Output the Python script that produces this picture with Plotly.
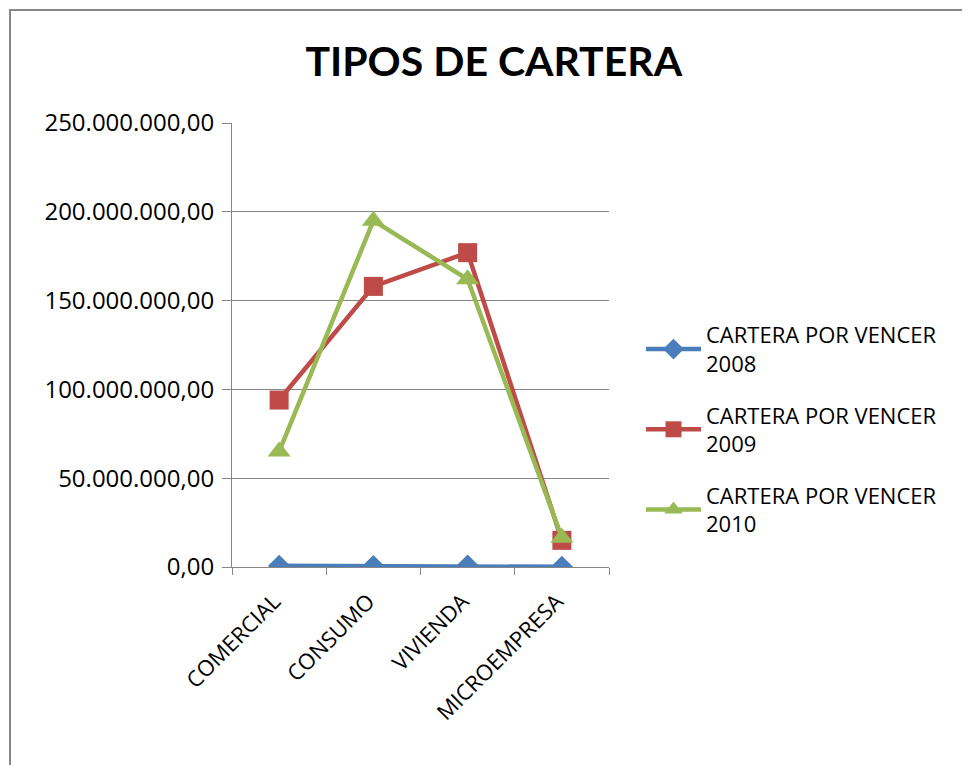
import plotly.graph_objects as go

categories = ["COMERCIAL", "CONSUMO", "VIVIENDA", "MICROEMPRESA"]
serie_2008 = [700000, 600000, 800000, 100000]
serie_2009 = [94000000, 158000000, 177000000, 15000000]
serie_2010 = [65000000, 195000000, 162000000, 16500000]
series_names = ["CARTERA POR VENCER<br>2008", "CARTERA POR VENCER<br>2009", "CARTERA POR VENCER<br>2010"]
y_ticks = [0, 50000000, 100000000, 150000000, 200000000, 250000000]

# page body has an 8px margin, so figure coordinates = viewport - 8
W, H = 962, 757
L, R, T, B = 224, 361, 115, 198

fig = go.Figure()
styles = [
    (serie_2008, "#4A7EBB", "diamond", 17),
    (serie_2009, "#BE4B48", "square", 19),
    (serie_2010, "#98B954", "triangle-up", 20),
]
for i, ((vals, col, sym, sz), name) in enumerate(zip(styles, series_names)):
    fig.add_trace(go.Scatter(
        x=categories, y=vals, name=name, mode="lines+markers",
        legendgroup=f"g{i}",
        line=dict(color=col, width=4.5),
        marker=dict(symbol=sym, size=sz, color=col),
    ))

pw, ph = W - L - R, H - T - B
fig.update_layout(
    width=W, height=H,
    margin=dict(l=L, r=R, t=T, b=B),
    paper_bgcolor="white", plot_bgcolor="white",
    separators=",.",
    font=dict(family="Open Sans, sans-serif", size=22, color="black"),
    title=dict(text="<b>TIPOS DE CARTERA</b>", x=0.505, xanchor="center",
               y=1 - 54 / H, yanchor="middle",
               font=dict(size=41, family="Lato, sans-serif", color="black")),
    showlegend=True,
    legend=dict(x=(633 - L) / pw, y=(H - B - 306) / ph,
                xanchor="left", yanchor="top", xref="paper", yref="paper",
                font=dict(size=22, family="Open Sans, sans-serif"),
                tracegroupgap=20, itemwidth=55,
                bgcolor="rgba(0,0,0,0)"),
    xaxis=dict(range=[-0.5, len(categories) - 0.5],
               showline=True, linecolor="#868686", linewidth=1,
               tickson="boundaries", ticks="outside", ticklen=7, tickcolor="#868686",
               tickangle=-45, tickfont=dict(size=22), showgrid=False,
               ticklabelstandoff=12, ticklabelshift=-5),
    yaxis=dict(range=[0, 250000000], tickvals=y_ticks, tickformat=",.2f",
               showline=True, linecolor="#868686", linewidth=1,
               ticks="outside", ticklen=9, tickcolor="#868686",
               showgrid=True, gridcolor="#868686", gridwidth=1,
               zeroline=False, tickfont=dict(size=24), ticklabelstandoff=3),
)

# outer chart border
fig.add_shape(type="rect", xref="paper", yref="paper",
              x0=(2 - L) / pw, x1=(975 - L) / pw,
              y0=(H - 770 - B) / ph, y1=(H - 2 - B) / ph,
              line=dict(color="#888888", width=2), fillcolor="rgba(0,0,0,0)", layer="below")

fig.write_html("out.html")
